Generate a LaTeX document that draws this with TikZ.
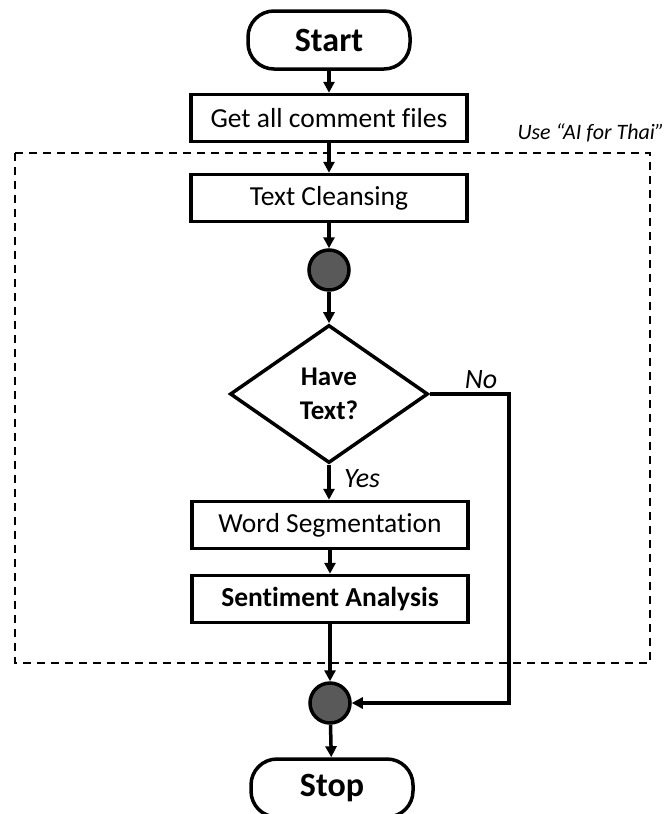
\documentclass[tikz,border=0pt]{standalone}
\usepackage{fontspec}
\setmainfont{Carlito}[Ligatures=NoCommon]
\usetikzlibrary{arrows.meta,shapes.geometric}
\tikzset{
  term/.style={draw,line width=3.5pt,rounded corners=26pt,minimum width=162pt,minimum height=58pt,font=\fontsize{34}{36}\selectfont\bfseries},
  procbox/.style={draw,line width=3.5pt,minimum width=276pt,minimum height=47pt,inner sep=0pt,font=\fontsize{27.5}{30}\selectfont},
  joint/.style={draw,circle,line width=3.5pt,fill=black!65,minimum size=40pt,inner sep=0pt},
  decide/.style={draw,diamond,line width=3.5pt,minimum width=198pt,minimum height=138pt,inner sep=0pt,align=center,font=\fontsize{27}{34}\selectfont\bfseries},
  flow/.style={line width=3.5pt,-{Triangle[length=11pt,width=11pt]}},
  tag/.style={font=\fontsize{28}{30}\selectfont\itshape}
}
\begin{document}
\begin{tikzpicture}[x=1pt,y=-1pt]
\useasboundingbox (0,0) rectangle (669,814);
\draw [line width=2pt,dash pattern=on 8pt off 6pt] (15,153) rectangle (650,663);
\node[tag,font=\fontsize{22}{24}\selectfont\itshape,anchor=east] (aithai) at (668,133) {Use “AI for Thai”};
% main column
\node[term]    (start) at (329,40)  {Start};
\node[procbox] (files) at (329,118) {Get all comment files};
\node[procbox] (clean) at (329,198) {Text Cleansing};
\node[joint]   (j1)    at (329,270) {};
\node[decide]  (have)  at (329,394) {Have\\Text?};
\node[procbox] (word)  at (330,525) {Word Segmentation};
\node[procbox,font=\fontsize{27.5}{30}\selectfont\bfseries] (senti) at (330,599) {Sentiment Analysis};
\node[joint]   (j2)    at (330,703) {};
\node[term]    (stop)  at (332,788) {Stop};
\foreach \a/\b in {start/files,files/clean,clean/j1,j1/have,word/senti,senti/j2,j2/stop}
   \draw[flow] (\a) -- (\b);
\draw[flow] (have.south) -- node[tag,right=10pt,pos=0.4] (yes) {Yes} (word.north -| have.south);
\draw[flow] (have.east) -- node[tag,above,pos=0.65] (no) {No} ++(79,0) |- (j2.east);
\end{tikzpicture}
\end{document}
